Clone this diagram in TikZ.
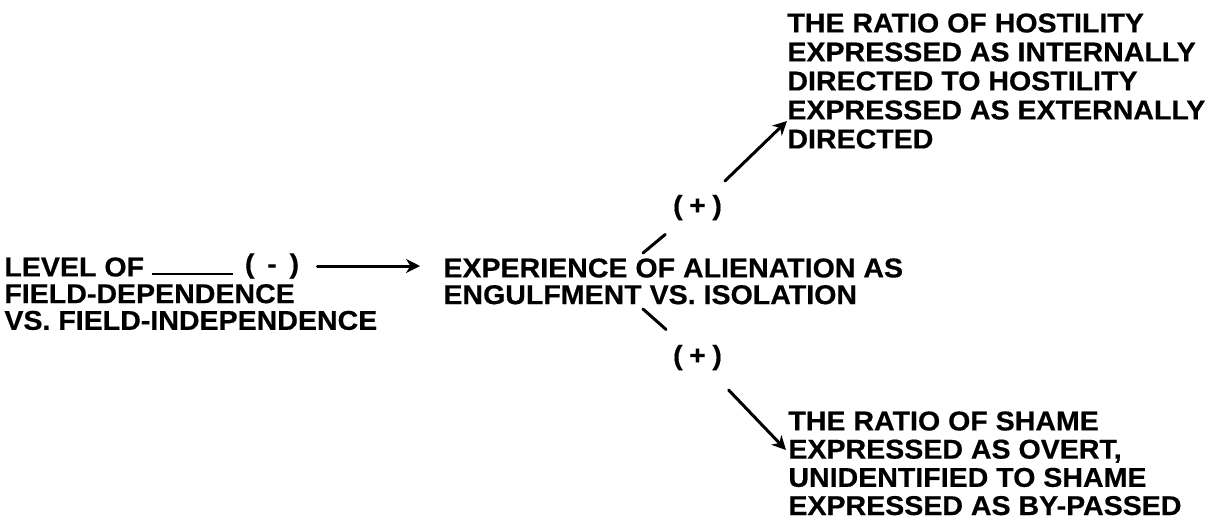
\documentclass[tikz,border=0pt]{standalone}
\usepackage{fontspec}
\setmainfont{Liberation Sans}[FakeStretch=1.05,BoldFeatures={FakeBold=0.5}]
\usetikzlibrary{arrows.meta}
\begin{document}
\begin{tikzpicture}[x=0.5pt,y=-0.5pt,
  lbl/.style={inner sep=0pt,anchor=north west,align=left,font=\bfseries\fontsize{13.6}{13.35}\selectfont},
  lbltop/.style={lbl,font=\bfseries\fontsize{13.6}{14.5}\selectfont},
  lblbot/.style={lbl,font=\bfseries\fontsize{13.6}{14.1}\selectfont},
  sgn/.style={inner sep=0pt,font=\bfseries\fontsize{13.6}{14}\selectfont},
  con/.style={line width=1.5pt,line cap=round},
  arr/.style={con,-{Stealth[length=7pt,width=7pt,inset=2.2pt]}}]
\useasboundingbox (0,0) rectangle (1219,520);
\node[lbl] (lvl) at (4,257) {LEVEL OF\\FIELD-DEPENDENCE\\VS. FIELD-INDEPENDENCE};
\node[lbl] (mid) at (443,258) {EXPERIENCE OF ALIENATION AS\\ENGULFMENT VS. ISOLATION};
\node[lbltop] (top) at (787,13) {THE RATIO OF HOSTILITY\\EXPRESSED AS INTERNALLY\\DIRECTED TO HOSTILITY\\EXPRESSED AS EXTERNALLY\\DIRECTED};
\node[lblbot] (bot) at (788,411) {THE RATIO OF SHAME\\EXPRESSED AS OVERT,\\UNIDENTIFIED TO SHAME\\EXPRESSED AS BY-PASSED};
\node[sgn] (minus) at (272,266) {(\hspace{0.47em}-\hspace{0.47em})};
\node[sgn] (plus1) at (697.5,207.5) {(\hspace{0.24em}+\hspace{0.24em})};
\node[sgn] (plus2) at (697.5,357.5) {(\hspace{0.24em}+\hspace{0.24em})};
% connector left -> middle
\coordinate (u1) at (152,274);
\coordinate (u2) at (233,274);
\draw[line width=1.2pt] (u1) -- (u2);
\draw[arr,shorten <=9pt,shorten >=11.5pt] (minus.east) -- (mid.west |- minus.east);
% upper branch
\coordinate (s1) at (643,253);
\coordinate (t1) at (787,121);
\draw[con,shorten >=21pt] (s1) -- (plus1.center);
\draw[arr,shorten <=19pt] (plus1.center) -- (t1);
% lower branch
\coordinate (s2) at (643,309);
\coordinate (t2) at (786,450);
\draw[con,shorten >=21pt] (s2) -- (plus2.center);
\draw[arr,shorten <=22.5pt] (plus2.center) -- (t2);
\end{tikzpicture}
\end{document}
